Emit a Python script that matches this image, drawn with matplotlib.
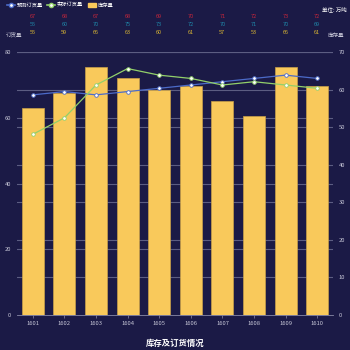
import matplotlib
matplotlib.use("Agg")
import matplotlib.pyplot as plt
from matplotlib.lines import Line2D
from matplotlib.patches import Patch

plt.rcParams['font.family'] = ['Noto Sans CJK SC', 'DejaVu Sans']

months = ['1601', '1602', '1603', '1604', '1605', '1606', '1607', '1608', '1609', '1610']
forecast = [67, 68, 67, 68, 69, 70, 71, 72, 73, 72]
actual = [55, 60, 70, 75, 73, 72, 70, 71, 70, 69]
stock = [55, 59, 66, 63, 60, 61, 57, 53, 66, 61]
left_ticks = [0, 20, 40, 60, 80]
right_ticks = [0, 10, 20, 30, 40, 50, 60, 70]

bg = '#1b1a46'
grid_c = '#5c5d82'
tick_c = '#c8c8d8'
bar_c = '#f9c95b'
blue_c = '#4c6bc9'
green_c = '#92d06a'
red_t = '#c2263c'
teal_t = '#1f86a8'
yel_t = '#d8b433'

fig = plt.figure(figsize=(3.5, 3.5), dpi=100, facecolor=bg)
ax2 = fig.add_axes([0.0486, 0.1, 0.9028, 0.751])
ax2.set_facecolor(bg)
ax = ax2.twinx()

x = list(range(len(months)))
ax2.set_ylim(0, 70)
ax2.set_yticks(right_ticks)
ax2.yaxis.tick_right()
# grid of both axes drawn behind the bars
for v in right_ticks[1:]:
    ax2.axhline(v, color=grid_c, linewidth=0.8, zorder=0)
for v in left_ticks[1:]:
    ax2.axhline(v * 70 / 80, color=grid_c, linewidth=0.8, zorder=0)
ax2.bar(x, stock, width=0.7, color=bar_c, edgecolor='#c9a048', linewidth=0.5, zorder=2)

ax.plot(x, forecast, color=blue_c, linewidth=0.9, marker='o', markersize=2.6,
        markerfacecolor='white', markeredgecolor=blue_c, markeredgewidth=0.6, zorder=4)
ax.plot(x, actual, color=green_c, linewidth=0.9, marker='o', markersize=2.6,
        markerfacecolor='white', markeredgecolor=green_c, markeredgewidth=0.6, zorder=4)
ax.set_ylim(0, 80)
ax.set_yticks(left_ticks)
ax.yaxis.tick_left()

ax2.set_xlim(-0.5, len(months) - 0.5)
ax2.set_xticks(x)
ax2.set_xticklabels(months)

for a in (ax, ax2):
    for s in a.spines.values():
        s.set_visible(False)
    a.tick_params(axis='y', length=0, labelsize=4.2, colors=tick_c, pad=4)
ax2.spines['bottom'].set_visible(True)
ax2.spines['bottom'].set_color('#8a8aa8')
ax2.spines['bottom'].set_linewidth(0.6)
ax2.tick_params(axis='x', length=2, width=0.5, color='#8a8aa8', labelsize=4.2,
                labelcolor=tick_c, pad=2)

# data label rows at top
for i in x:
    xf = (i + 0.5) / len(months)
    ax2.text(xf, 1.135, str(forecast[i]), transform=ax2.transAxes, ha='center', va='center',
             fontsize=4, color=red_t)
    ax2.text(xf, 1.105, str(actual[i]), transform=ax2.transAxes, ha='center', va='center',
             fontsize=4, color=teal_t)
    ax2.text(xf, 1.075, str(stock[i]), transform=ax2.transAxes, ha='center', va='center',
             fontsize=4, color=yel_t)

fig.text(0.04, 0.9, '订货量', fontsize=4, color=tick_c, ha='center', va='center')
fig.text(0.96, 0.9, '库存量', fontsize=4, color=tick_c, ha='center', va='center')
fig.text(0.955, 0.972, '单位: 万吨', fontsize=4, color='white', ha='center', va='center')
fig.text(0.5, 0.02, '库存及订货情况', fontsize=6, color='white', ha='center', va='center',
         fontweight='bold')

handles = [
    Line2D([0], [0], color=blue_c, linewidth=1.2, marker='o', markersize=3,
           markerfacecolor='white', markeredgecolor=blue_c),
    Line2D([0], [0], color=green_c, linewidth=1.2, marker='o', markersize=3,
           markerfacecolor='white', markeredgecolor=green_c),
    Patch(facecolor=bar_c, edgecolor=bar_c),
]
fig.legend(handles, ['预测订货量', '实际订货量', '库存量'], loc='upper left',
           bbox_to_anchor=(0.005, 1.005), ncol=3, frameon=False, fontsize=3.8,
           labelcolor='white', handlelength=1.6, handleheight=0.9, columnspacing=0.8,
           handletextpad=0.3)

fig.savefig('out.png', dpi=100, facecolor=bg)
